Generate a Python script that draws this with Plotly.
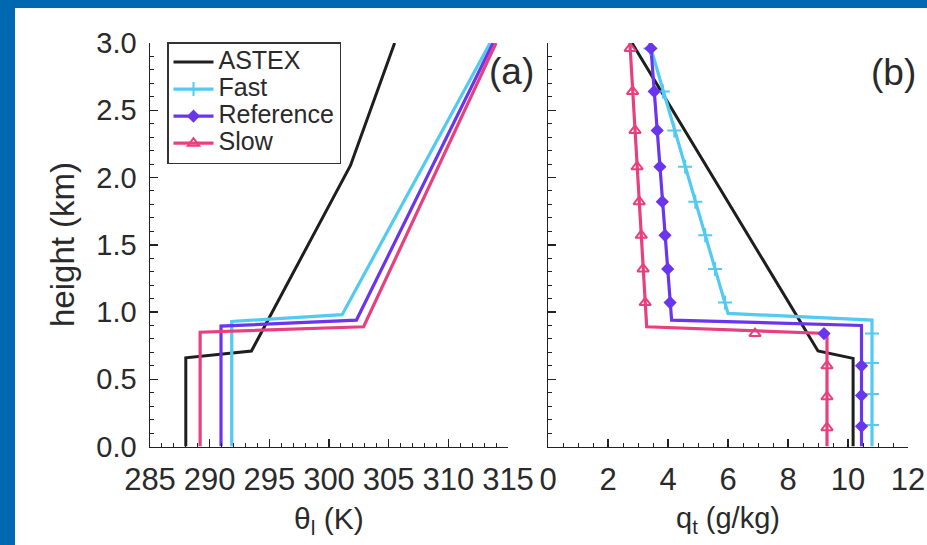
import plotly.graph_objects as go

# ---------------- data ----------------
series_names = ["ASTEX", "Fast", "Reference", "Slow"]
series_colors = ["#1e1e1e", "#52caf2", "#6a35ee", "#e8407f"]

# panel (a): theta_l (K) vs height (km)
astex_theta = [288.0, 288.0, 293.5, 301.8, 305.5]
astex_theta_z = [0.0, 0.66, 0.71, 2.09, 3.0]
fast_theta = [291.85, 291.85, 301.1, 313.5]
fast_theta_z = [0.0, 0.93, 0.98, 3.0]
ref_theta = [290.95, 290.95, 302.3, 313.75]
ref_theta_z = [0.0, 0.895, 0.94, 3.0]
slow_theta = [289.2, 289.2, 302.9, 314.0]
slow_theta_z = [0.0, 0.85, 0.89, 3.0]

# panel (b): q_t (g/kg) vs height (km)
astex_q = [10.17, 10.17, 9.0, 2.8]
astex_q_z = [0.0, 0.655, 0.71, 3.0]
fast_q = [10.8, 10.8, 6.0, 3.38]
fast_q_z = [0.0, 0.94, 0.99, 3.0]
ref_q = [10.45, 10.45, 4.12, 3.42]
ref_q_z = [0.0, 0.90, 0.94, 3.0]
slow_q = [9.3, 9.3, 3.29, 2.73]
slow_q_z = [0.0, 0.84, 0.89, 3.0]

# model-level markers in panel (b)
fast_mk_q = [3.41, 3.83, 4.21, 4.57, 4.91, 5.24, 5.57, 5.90, 10.8, 10.8, 10.8, 10.8]
fast_mk_z = [2.96, 2.64, 2.35, 2.08, 1.82, 1.57, 1.32, 1.07, 0.84, 0.62, 0.39, 0.16]
ref_mk_q = [3.43, 3.54, 3.64, 3.73, 3.81, 3.90, 3.99, 4.07, 9.2, 10.45, 10.45, 10.45]
ref_mk_z = [2.96, 2.64, 2.35, 2.08, 1.82, 1.57, 1.32, 1.07, 0.84, 0.60, 0.38, 0.15]
slow_mk_q = [2.74, 2.82, 2.90, 2.97, 3.04, 3.11, 3.17, 3.24, 6.9, 9.3, 9.3, 9.3]
slow_mk_z = [2.96, 2.64, 2.35, 2.08, 1.82, 1.57, 1.32, 1.07, 0.84, 0.60, 0.37, 0.14]

theta_ticks = [285, 290, 295, 300, 305, 310, 315]
q_ticks = [0, 2, 4, 6, 8, 10, 12]
z_ticks = [0.0, 0.5, 1.0, 1.5, 2.0, 2.5, 3.0]

# ---------------- figure ----------------
W, H = 927, 545
def px(x):
    return x / W
def py(y):
    return 1 - y / H

fig = go.Figure()

theta_sets = [(astex_theta, astex_theta_z), (fast_theta, fast_theta_z),
              (ref_theta, ref_theta_z), (slow_theta, slow_theta_z)]
q_sets = [(astex_q, astex_q_z), (fast_q, fast_q_z), (ref_q, ref_q_z), (slow_q, slow_q_z)]
mk_sets = [None, (fast_mk_q, fast_mk_z), (ref_mk_q, ref_mk_z), (slow_mk_q, slow_mk_z)]
symbols = [None, "cross-thin-open", "diamond", "triangle-up-open"]
msizes = [0, 10, 8, 10]
widths = [3, 3.2, 3.2, 3.2]

for i, (xs, zs) in enumerate(theta_sets):
    fig.add_trace(go.Scatter(x=xs, y=zs, mode="lines", xaxis="x", yaxis="y",
                             line=dict(color=series_colors[i], width=widths[i]),
                             showlegend=False, hoverinfo="skip"))
for i, (xs, zs) in enumerate(q_sets):
    fig.add_trace(go.Scatter(x=xs, y=zs, mode="lines", xaxis="x2", yaxis="y2",
                             line=dict(color=series_colors[i], width=widths[i]),
                             showlegend=False, hoverinfo="skip"))
for i, mk in enumerate(mk_sets):
    if mk is None:
        continue
    fig.add_trace(go.Scatter(x=mk[0], y=mk[1], mode="markers", xaxis="x2", yaxis="y2",
                             marker=dict(symbol=symbols[i], size=msizes[i], color=series_colors[i],
                                         line=dict(color=series_colors[i], width=2)),
                             showlegend=False, hoverinfo="skip"))
# legend entries (text drawn larger than the legend's row spacing font)
LEG_TXT = '<span style="font-size:25px">%s</span>'
for i, name in enumerate(series_names):
    if i == 0:
        fig.add_trace(go.Scatter(x=[None], y=[None], mode="lines", name=LEG_TXT % name,
                                 xaxis="x", yaxis="y",
                                 line=dict(color=series_colors[i], width=widths[i])))
    else:
        fig.add_trace(go.Scatter(x=[None], y=[None], mode="lines+markers", name=LEG_TXT % name,
                                 xaxis="x", yaxis="y",
                                 line=dict(color=series_colors[i], width=widths[i]),
                                 marker=dict(symbol=symbols[i], size=msizes[i], color=series_colors[i],
                                             line=dict(color=series_colors[i], width=2))))

axis_color = "#222222"
FONT = "Liberation Sans, Arial, sans-serif"
xtick_font = dict(family=FONT, size=31, color="#2a2a2a")
ytick_font = dict(family=FONT, size=29, color="#2a2a2a")

def xaxis_style(rng, ticks, minor_dtick, domain, anchor):
    return dict(range=rng, domain=domain, anchor=anchor, tickvals=ticks, tickangle=0,
                automargin=False,
                showline=True, linecolor=axis_color, linewidth=1.5, mirror=False,
                ticks="inside", ticklen=8, tickwidth=1.5, tickcolor=axis_color,
                minor=dict(ticks="inside", ticklen=4, tickwidth=1, tickcolor=axis_color,
                           dtick=minor_dtick, showgrid=False),
                showgrid=False, zeroline=False, tickfont=xtick_font, ticklabelstandoff=5,
                fixedrange=True)

def yaxis_style(domain, anchor, labels):
    return dict(range=[0, 3], domain=domain, anchor=anchor, tickvals=z_ticks, tickformat=".1f",
                automargin=False,
                showline=True, linecolor=axis_color, linewidth=1.5, mirror=False,
                ticks="inside", ticklen=8, tickwidth=1.5, tickcolor=axis_color,
                minor=dict(ticks="inside", ticklen=4, tickwidth=1, tickcolor=axis_color,
                           dtick=0.1, showgrid=False),
                showgrid=False, zeroline=False, tickfont=ytick_font, showticklabels=labels,
                ticklabelstandoff=6, fixedrange=True)

ydom = [py(446.5), py(43)]
fig.update_layout(
    template="none",
    width=W, height=H, autosize=False,
    margin=dict(l=0, r=0, t=0, b=0, pad=0, autoexpand=False),
    paper_bgcolor="white", plot_bgcolor="white",
    font=dict(family=FONT, color="#2a2a2a"),
    xaxis=xaxis_style([285, 315], theta_ticks, 1, [px(150), px(508)], "y"),
    yaxis=yaxis_style(ydom, "x", True),
    xaxis2=xaxis_style([0, 12], q_ticks, 0.5, [px(548), px(908)], "y2"),
    yaxis2=yaxis_style(ydom, "x2", False),
    showlegend=True,
    legend=dict(x=px(167), y=py(42), xanchor="left", yanchor="top",
                bgcolor="white", bordercolor="#333333", borderwidth=1.5,
                font=dict(family=FONT, size=18.5, color="#2a2a2a"),
                tracegroupgap=0, itemwidth=40),
    shapes=[
        dict(type="rect", xref="paper", yref="paper", x0=0, x1=1, y0=py(8), y1=1,
             fillcolor="#0067b1", line=dict(width=0), layer="above"),
        dict(type="rect", xref="paper", yref="paper", x0=0, x1=px(15), y0=0, y1=1,
             fillcolor="#0067b1", line=dict(width=0), layer="above"),
    ],
    annotations=[
        dict(text="height (km)", xref="paper", yref="paper", x=px(63), y=py(245),
             textangle=-90, showarrow=False, xanchor="center", yanchor="middle",
             font=dict(family=FONT, size=33, color="#2a2a2a")),
        dict(text="θ<sub>l</sub> (K)", xref="paper", yref="paper", x=px(329), y=py(520),
             showarrow=False, xanchor="center", yanchor="middle",
             font=dict(family=FONT, size=30, color="#2a2a2a")),
        dict(text="q<sub>t</sub> (g/kg)", xref="paper", yref="paper", x=px(728), y=py(520),
             showarrow=False, xanchor="center", yanchor="middle",
             font=dict(family=FONT, size=29, color="#2a2a2a")),
        dict(text="(a)", xref="paper", yref="paper", x=px(511), y=py(71),
             showarrow=False, xanchor="center", yanchor="middle",
             font=dict(family=FONT, size=37, color="#2a2a2a")),
        dict(text="(b)", xref="paper", yref="paper", x=px(893), y=py(73),
             showarrow=False, xanchor="center", yanchor="middle",
             font=dict(family=FONT, size=37, color="#2a2a2a")),
    ],
)

fig.write_html("out.html", config={"displayModeBar": False, "staticPlot": True},
               post_script="document.body.style.margin='0px';document.body.style.overflow='hidden';")
